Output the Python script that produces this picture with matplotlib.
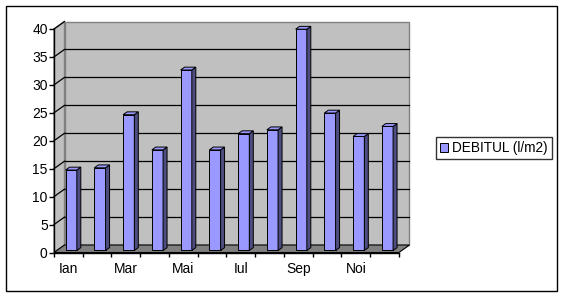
import matplotlib
matplotlib.use("Agg")
import matplotlib.pyplot as plt
from matplotlib.patches import Polygon, Rectangle
import numpy as np

plt.rcParams['font.family'] = ['Liberation Sans', 'DejaVu Sans']

months = ["Ian", "Feb", "Mar", "Apr", "Mai", "Iun", "Iul", "Aug", "Sep", "Oct", "Noi", "Dec"]
debit = [14.4, 14.8, 24.3, 18.0, 32.3, 18.0, 20.9, 21.6, 39.6, 24.6, 20.4, 22.2]
yticks = [0, 5, 10, 15, 20, 25, 30, 35, 40]
series_name = "DEBITUL (l/m2)"

W, H, DPI = 564, 296, 100
fig = plt.figure(figsize=(W / DPI, H / DPI), dpi=DPI)

# front plane in pixels
x0p, x1p = 54, 399
y0p, y1p = 252.5, 29
ax = fig.add_axes([x0p / W, (H - y0p) / H, (x1p - x0p) / W, (y0p - y1p) / H])
n = len(months)
ymax = 40
ax.set_xlim(0, n)
ax.set_ylim(0, ymax)

# depth offset in data units
DXp, DYp = 10.5, 7.5
DX = DXp / ((x1p - x0p) / n)
DY = DYp / ((y0p - y1p) / ymax)

wall = "#C0C0C0"
floor = "#808080"
edge = "#808080"

ax.set_facecolor("none")
for s in ax.spines.values():
    s.set_visible(False)

# back wall
ax.add_patch(Polygon([(DX, DY), (n + DX, DY), (n + DX, ymax + DY), (DX, ymax + DY)],
                     closed=True, facecolor=wall, edgecolor=edge, lw=1.0, clip_on=False, zorder=0))
# side wall
ax.add_patch(Polygon([(0, 0), (DX, DY), (DX, ymax + DY), (0, ymax)],
                     closed=True, facecolor=wall, edgecolor=edge, lw=1.0, clip_on=False, zorder=0))
# floor
ax.add_patch(Polygon([(0, 0), (n, 0), (n + DX, DY), (DX, DY)],
                     closed=True, facecolor=floor, edgecolor="black", lw=0.8, clip_on=False, zorder=0.5))
# gridlines on back wall and side wall
for v in yticks[1:-1]:
    ax.plot([DX, n + DX], [v + DY, v + DY], color="black", lw=0.9, clip_on=False, zorder=0.6)
for v in yticks[1:]:
    ax.plot([0, DX], [v, v + DY], color="black", lw=0.9, clip_on=False, zorder=0.6)

# axes lines
ax.plot([0, 0], [0, ymax], color="black", lw=1.0, clip_on=False, zorder=3)
ax.plot([0, n], [0, 0], color="black", lw=1.0, clip_on=False, zorder=3)

# 3D bars
f = 0.27
d = 0.38
bw = 0.39
front_c = "#9999FF"
side_c = "#4D4D80"
top_c = "#9999FF"
xc = np.arange(n) + 0.5 + f * DX
base = f * DY
ax.bar(xc, debit, width=bw, bottom=base, color=front_c, edgecolor="black", lw=0.7,
       zorder=2, clip_on=False)
for x, v in zip(xc, debit):
    xr = x + bw / 2
    xl = x - bw / 2
    top = base + v
    ax.add_patch(Polygon([(xr, base), (xr + d * DX, base + d * DY), (xr + d * DX, top + d * DY), (xr, top)],
                         closed=True, facecolor=side_c, edgecolor="black", lw=0.7, zorder=2, clip_on=False))
    ax.add_patch(Polygon([(xl, top), (xr, top), (xr + d * DX, top + d * DY), (xl + d * DX, top + d * DY)],
                         closed=True, facecolor=top_c, edgecolor="black", lw=0.7, zorder=2, clip_on=False))

# ticks
ax.set_yticks(yticks)
ax.set_yticklabels([str(t) for t in yticks])
ax.tick_params(axis="y", direction="out", length=3.5, width=1, pad=1, labelsize=10, colors="black")
ax.set_xticks(np.arange(n + 1))
ax.set_xticklabels([""] * (n + 1))
ax.set_xticks(np.arange(0, n, 2) + 0.5, minor=True)
ax.set_xticklabels(months[::2], minor=True)
ax.tick_params(axis="x", which="major", direction="out", length=3, width=1)
ax.tick_params(axis="x", which="minor", length=0, pad=6.5, labelsize=10)

# legend
handle = Rectangle((0, 0), 1, 1, facecolor=front_c, edgecolor="black", lw=0.7)
leg = fig.legend([handle], [series_name], loc="center left",
                 bbox_to_anchor=(435.5 / W, (H - 148.3) / H), frameon=True, fontsize=9.8,
                 fancybox=False, borderpad=0.3, handlelength=0.6, handleheight=0.6,
                 handletextpad=0.3, borderaxespad=0)
leg.get_frame().set_edgecolor("black")
leg.get_frame().set_linewidth(1.0)

# outer border
fig.patches.append(Rectangle((5.5 / W, 5.5 / H), 551.5 / W, 285 / H, transform=fig.transFigure,
                             fill=False, edgecolor="black", lw=1.0))

fig.savefig("out.png", dpi=DPI)
